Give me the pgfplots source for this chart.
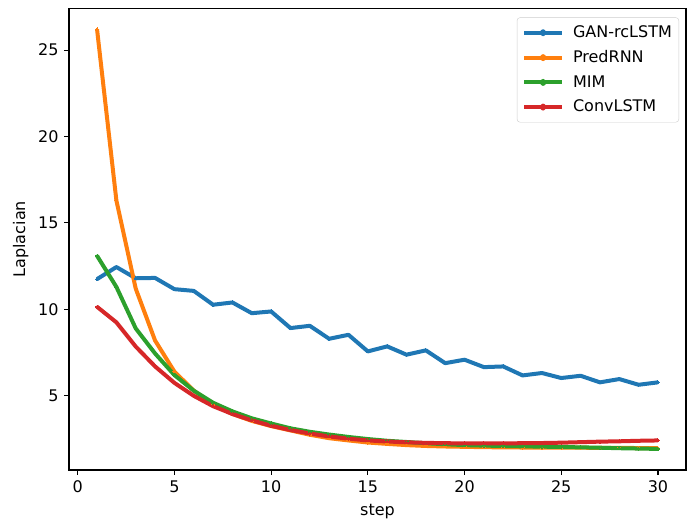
\documentclass[border=0pt]{standalone}
\usepackage{fontspec}
\setmainfont{DejaVu Sans}
\usepackage{pgfplots}
\pgfplotsset{compat=1.18}
\definecolor{tabblue}{HTML}{1F77B4}
\definecolor{taborange}{HTML}{FF7F0E}
\definecolor{tabgreen}{HTML}{2CA02C}
\definecolor{tabred}{HTML}{D62728}
\newcommand{\fs}{\fontsize{16bp}{19bp}\selectfont}
\begin{document}
\fs
\begin{tikzpicture}
\useasboundingbox (-69bp,-52bp) rectangle (618bp,470bp);
\begin{axis}[
  at={(0,0)}, anchor=south west,
  scale only axis,
  width=617bp, height=461.6bp,
  xmin=-0.45, xmax=31.45, ymin=0.71, ymax=27.41,
  xtick={0,5,...,30}, ytick={5,10,...,25},
  tick align=outside, tick pos=left,
  major tick length=4.9bp,
  axis line style={black, line width=1.1bp},
  every tick/.style={black, line width=1.1bp},
  /pgf/number format/assume math mode=true,
  ticklabel style={font=\fs},
  xlabel={step}, ylabel={Laplacian},
  label style={font=\fs},
  xlabel style={yshift=-1bp},
  ylabel style={yshift=-1bp},
  legend style={at={(rel axis cs:1,1)}, anchor=north east, xshift=-7bp, yshift=-9bp,
    draw=black!20, rounded corners=3bp, font=\fs,
    row sep=6.5bp, inner xsep=5bp, inner ysep=6bp},
  legend cell align=left,
  legend image code/.code={\draw[#1, line width=4bp] (0bp,0bp) -- (38bp,0bp); \fill[#1] (19bp,0bp) circle (1.5bp); \path (45bp,0bp);},
  every axis plot/.append style={line width=4bp, mark=*, mark size=1.5bp, line join=round, mark options={line width=0pt}},
]
\addplot[tabblue] coordinates {(1,11.75)(2,12.45)(3,11.8)(4,11.82)(5,11.17)(6,11.07)(7,10.27)(8,10.4)(9,9.78)(10,9.88)(11,8.92)(12,9.05)(13,8.3)(14,8.53)(15,7.57)(16,7.86)(17,7.38)(18,7.63)(19,6.89)(20,7.09)(21,6.66)(22,6.7)(23,6.18)(24,6.32)(25,6.03)(26,6.16)(27,5.78)(28,5.97)(29,5.64)(30,5.78)};
\addlegendentry{GAN-rcLSTM}
\addplot[taborange] coordinates {(1,26.2)(2,16.3)(3,11.2)(4,8.2)(5,6.4)(6,5.3)(7,4.5)(8,3.95)(9,3.55)(10,3.25)(11,3.0)(12,2.75)(13,2.55)(14,2.42)(15,2.3)(16,2.22)(17,2.15)(18,2.1)(19,2.07)(20,2.05)(21,2.03)(22,2.02)(23,2.01)(24,2.0)(25,2.0)(26,2.0)(27,1.99)(28,1.99)(29,1.98)(30,1.98)};
\addlegendentry{PredRNN}
\addplot[tabgreen] coordinates {(1,13.1)(2,11.3)(3,8.9)(4,7.45)(5,6.2)(6,5.3)(7,4.6)(8,4.1)(9,3.7)(10,3.4)(11,3.12)(12,2.92)(13,2.76)(14,2.62)(15,2.5)(16,2.4)(17,2.33)(18,2.26)(19,2.2)(20,2.15)(21,2.12)(22,2.1)(23,2.08)(24,2.06)(25,2.04)(26,2.02)(27,2.0)(28,1.97)(29,1.95)(30,1.93)};
\addlegendentry{MIM}
\addplot[tabred] coordinates {(1,10.15)(2,9.25)(3,7.85)(4,6.7)(5,5.75)(6,5.0)(7,4.4)(8,3.95)(9,3.58)(10,3.27)(11,3.02)(12,2.82)(13,2.65)(14,2.52)(15,2.42)(16,2.36)(17,2.31)(18,2.28)(19,2.26)(20,2.25)(21,2.25)(22,2.25)(23,2.26)(24,2.27)(25,2.29)(26,2.32)(27,2.35)(28,2.37)(29,2.4)(30,2.42)};
\addlegendentry{ConvLSTM}
\end{axis}
\end{tikzpicture}
\end{document}
